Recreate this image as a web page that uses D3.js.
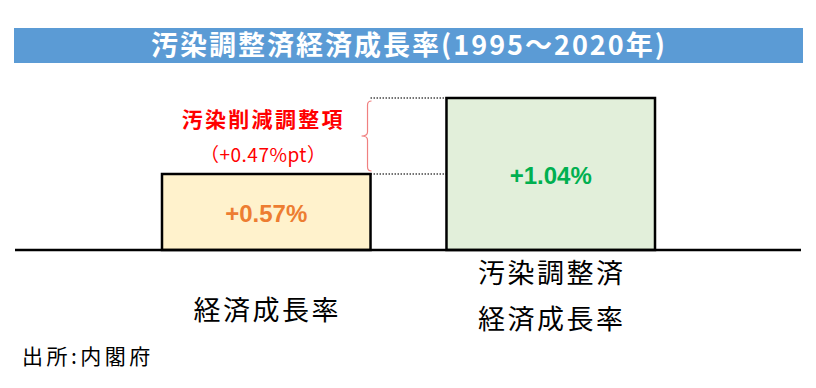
<!DOCTYPE html>
<html>
<head>
<meta charset="utf-8">
<script src="https://cdn.jsdelivr.net/npm/d3@7"></script>
<style>
  body { margin: 0; background: #fff; }
  svg { display: block; }
</style>
</head>
<body>
<svg id="chart" width="816" height="388"></svg>
<script>
// data
const categories = ["経済成長率", "汚染調整済経済成長率"];
const catLines = [["経済成長率"], ["汚染調整済", "経済成長率"]];
const values = [0.57, 1.04];
const valueLabels = ["+0.57%", "+1.04%"];
const barFills = ["#FFF2CC", "#E2EFDA"];
const labelColors = ["#ED7D31", "#00B050"];
const adjustLabel = ["汚染削減調整項", "（+0.47%pt）"];
const titleText = "汚染調整済経済成長率(1995～2020年)";
const sourceText = "出所:内閣府";

const jp = "'Noto Sans CJK JP', 'Noto Sans CJK SC', sans-serif";
const num = "'Liberation Sans', Arial, sans-serif";

let svg = d3.select("#chart");

// title bar
svg.append("rect")
  .attr("x", 14).attr("y", 28)
  .attr("width", 789).attr("height", 35)
  .attr("fill", "#5B9BD5");
svg.append("text")
  .attr("x", 408).attr("y", 55)
  .attr("dx", 1)
  .attr("text-anchor", "middle")
  .style("font-family", jp)
  .style("font-size", "27px")
  .style("font-weight", "bold")
  .style("letter-spacing", "2px")
  .style("fill", "#fff")
  .text(titleText);

let x = d3.scaleBand()
  .domain(categories)
  .range([162, 655])
  .paddingInner(0.267)
  .paddingOuter(0);

// axis is truncated, bars start from the baseline at 0.1
let y = d3.scaleLinear()
  .domain([0.1, 1.04])
  .range([250, 98]);

// dotted connector box between bars
let gapX0 = x(categories[0]) + x.bandwidth();
let gapX1 = x(categories[1]);
[values[0], values[1]].forEach(function(v) {
  svg.append("line")
    .attr("x1", gapX0).attr("x2", gapX1)
    .attr("y1", y(v)).attr("y2", y(v))
    .attr("stroke", "#444")
    .attr("stroke-width", 1.5)
    .attr("stroke-dasharray", "1.5,1.5");
});

// bars
svg.selectAll(".bar")
  .data(values)
  .enter().append("rect")
  .attr("class", "bar")
  .attr("x", (d, i) => x(categories[i]))
  .attr("y", d => y(d))
  .attr("width", x.bandwidth())
  .attr("height", d => y.range()[0] - y(d))
  .attr("fill", (d, i) => barFills[i])
  .attr("stroke", "#000")
  .attr("stroke-width", 2.5);

// baseline
svg.append("line")
  .attr("x1", 15).attr("x2", 801)
  .attr("y1", y.range()[0]).attr("y2", y.range()[0])
  .attr("stroke", "#000")
  .attr("stroke-width", 2.5);

// value labels
svg.selectAll(".vlabel")
  .data(values)
  .enter().append("text")
  .attr("class", "vlabel")
  .attr("x", (d, i) => x(categories[i]) + x.bandwidth() / 2)
  .attr("y", d => (y(d) + y.range()[0]) / 2 + 10)
  .attr("text-anchor", "middle")
  .style("font-family", num)
  .style("font-weight", "bold")
  .style("font-size", "24px")
  .style("fill", (d, i) => labelColors[i])
  .text((d, i) => valueLabels[i]);

// red brace
let bx = gapX0 - 3;
let yTop = y(values[1]) + 3;
let yBot = y(values[0]) - 3;
let yMid = (yTop + yBot) / 2;
svg.append("path")
  .attr("d", "M" + (bx + 4) + "," + yTop +
    " Q" + bx + "," + yTop + " " + bx + "," + (yTop + 4) +
    " L" + bx + "," + (yMid - 4) +
    " Q" + bx + "," + yMid + " " + (bx - 6) + "," + yMid +
    " Q" + bx + "," + yMid + " " + bx + "," + (yMid + 4) +
    " L" + bx + "," + (yBot - 4) +
    " Q" + bx + "," + yBot + " " + (bx + 4) + "," + yBot)
  .attr("fill", "none")
  .attr("stroke", "#F08080")
  .attr("stroke-width", 1.2);

// adjustment label
svg.selectAll(".adj")
  .data(adjustLabel)
  .enter().append("text")
  .attr("class", "adj")
  .attr("x", x(categories[0]) + x.bandwidth() / 2 - 3)
  .attr("y", (d, i) => 127 + i * 35)
  .attr("text-anchor", "middle")
  .style("font-family", jp)
  .style("font-weight", (d, i) => i == 0 ? "bold" : "normal")
  .style("font-size", (d, i) => i == 0 ? "21px" : "19px")
  .style("letter-spacing", (d, i) => i == 0 ? "2.3px" : "0.5px")
  .style("fill", "#FF0000")
  .text(d => d);

// category labels
catLines.forEach(function(lines, i) {
  let cx = x(categories[i]) + x.bandwidth() / 2;
  let startY = lines.length == 1 ? 320 : 283;
  lines.forEach(function(t, j) {
    svg.append("text")
      .attr("x", cx + 1)
      .attr("y", startY + j * 46)
      .attr("text-anchor", "middle")
      .style("font-family", jp)
      .style("font-size", "27px")
      .style("letter-spacing", "2.5px")
      .style("fill", "#000")
      .text(t);
  });
});

// source
svg.append("text")
  .attr("x", 22).attr("y", 364)
  .style("font-family", jp)
  .style("font-size", "21px")
  .style("letter-spacing", "3.5px")
  .style("fill", "#000")
  .text(sourceText);
</script>
</body>
</html>
